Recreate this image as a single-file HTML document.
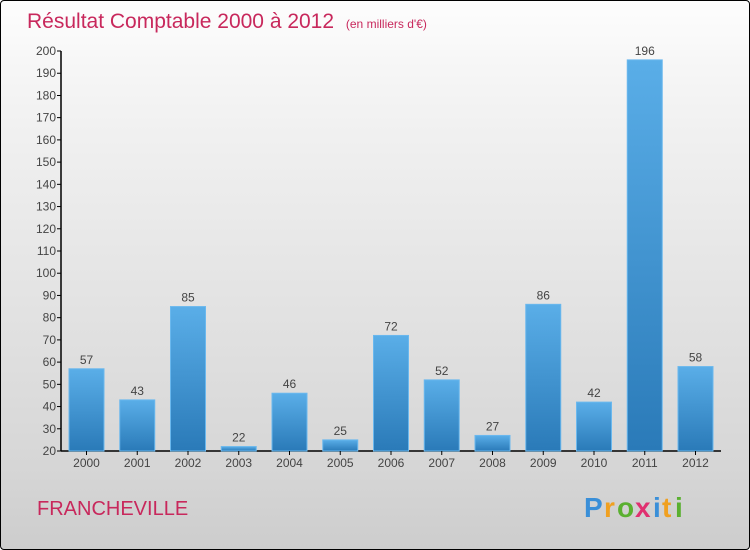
<!DOCTYPE html>
<html><head><meta charset="utf-8"><style>
body{margin:0;}
#wrap{position:relative;width:748px;height:548px;border:1px solid #000;border-radius:4px;background:linear-gradient(#fdfdfd,#f2f2f2 20%,#d6d6d6 85%,#cdcdcd);overflow:hidden;font-family:"Liberation Sans",sans-serif;}
svg{position:absolute;left:0;top:0}
</style></head><body>
<div id="wrap">
<svg id="c" width="750" height="550">
<text x="26" y="27" font-size="21" fill="#c8285c">Résultat Comptable 2000 à 2012 <tspan font-size="12" dx="6">(en milliers d'€)</tspan></text>
<text x="36" y="514" font-size="20" fill="#c8285c">FRANCHEVILLE</text>
<g font-size="28" font-weight="bold">
<text x="583" y="516" fill="#3a8fd8">P</text><text x="603" y="516" fill="#f0a020">r</text><text x="616" y="516" fill="#5ab030">o</text><text x="634" y="516" fill="#e03070">x</text><text x="652" y="516" fill="#3a8fd8">i</text><text x="661" y="516" fill="#f0a020">t</text><text x="674" y="516" fill="#5ab030">i</text>
</g>
<defs><linearGradient id="bg" x1="0" y1="0" x2="0" y2="1"><stop offset="0" stop-color="#5aaee8"/><stop offset="1" stop-color="#2a7ab8"/></linearGradient></defs>
<g id="g"></g>
</svg></div>
<script>
const years=["2000","2001","2002","2003","2004","2005","2006","2007","2008","2009","2010","2011","2012"];
const values=[57,43,85,22,46,25,72,52,27,86,42,196,58];
const yTicks=[20,30,40,50,60,70,80,90,100,110,120,130,140,150,160,170,180,190,200];
const NS="http://www.w3.org/2000/svg";
const g=document.getElementById('g');
const y=v=>450-(v-20)*400/180;
const x=i=>85.5+i*50.75;
function mk(t,a){const e=document.createElementNS(NS,t);for(const k in a)e.setAttribute(k,a[k]);g.appendChild(e);return e;}
const ax=mk('line',{x1:60,y1:50,x2:60,y2:450,stroke:'#000','stroke-width':1.5});


const bx=mk('line',{x1:60,y1:450,x2:720,y2:450,stroke:'#000','stroke-width':1.5});


yTicks.forEach(v=>{
 mk('line',{x1:56,x2:60,y1:y(v),y2:y(v),stroke:'#000'});
 const t=mk('text',{x:55,y:y(v)+4,'font-size':12,fill:'#444','text-anchor':'end'});t.textContent=v;
 
 
});
values.forEach((v,i)=>{
 const r=mk('rect',{x:x(i)-17.5,y:y(v),width:35,height:450-y(v),fill:'url(#bg)',stroke:'#6ab8ee','stroke-width':1});
 
 
 const t=mk('text',{x:x(i),y:y(v)-5,'font-size':12,fill:'#444','text-anchor':'middle'});t.textContent=v;
 
 
 mk('line',{x1:x(i),x2:x(i),y1:450,y2:454,stroke:'#000'});
 const l=mk('text',{x:x(i),y:466,'font-size':12,fill:'#444','text-anchor':'middle'});l.textContent=years[i];
 
 
});
</script></body></html>
